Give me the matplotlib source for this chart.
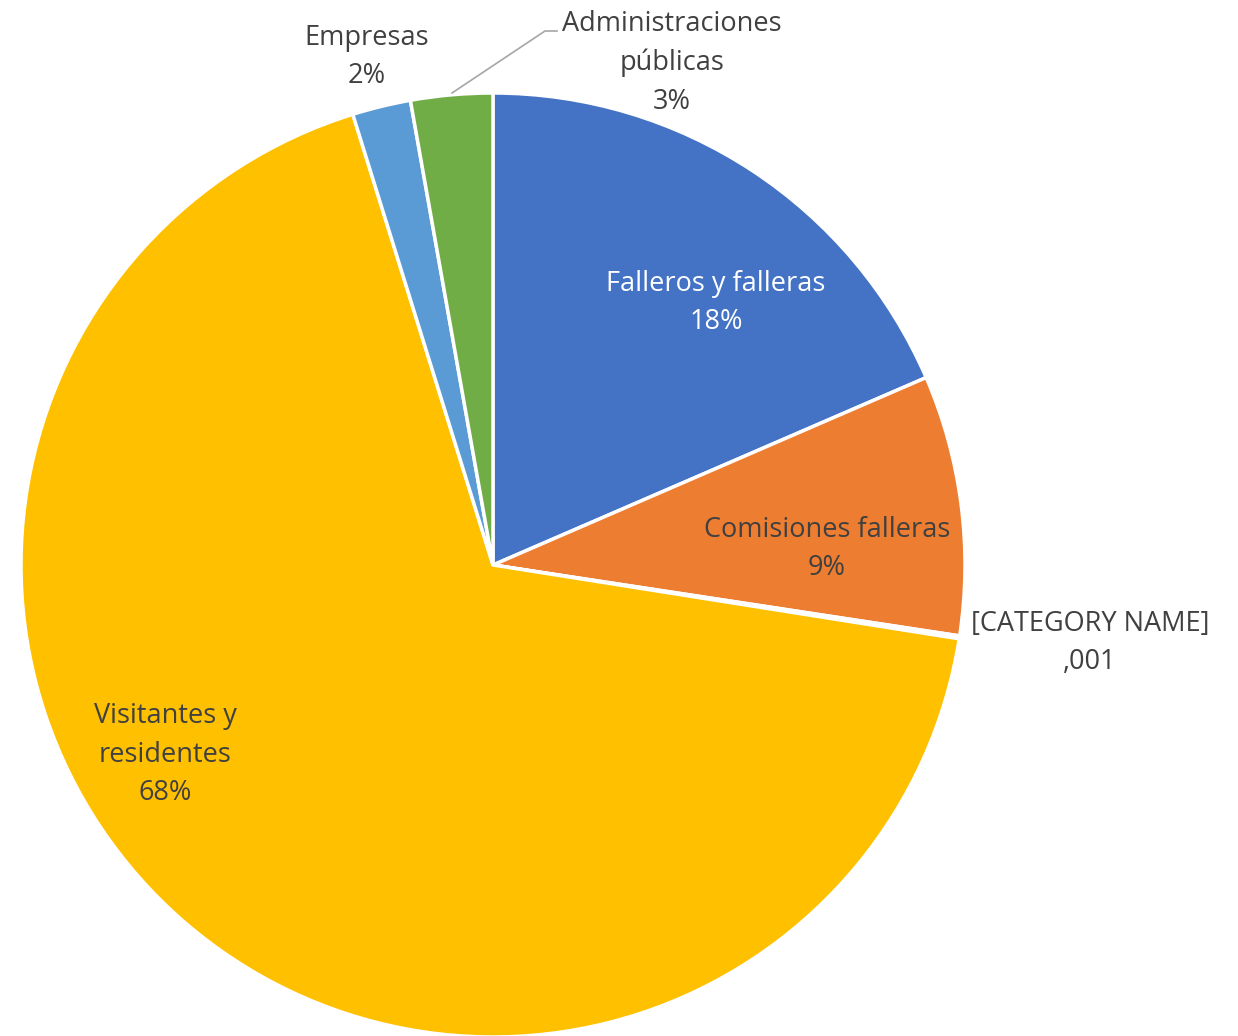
import matplotlib
matplotlib.use('Agg')
import matplotlib.pyplot as plt

categories = [
    'Falleros y falleras',
    'Comisiones falleras',
    '[CATEGORY NAME]',
    'Visitantes y\nresidentes',
    'Empresas',
    'Administraciones\npúblicas',
]
values = [0.185, 0.089, 0.001, 0.677, 0.020, 0.028]
value_labels = ['18%', '9%', ',001', '68%', '2%', '3%']
colors = ['#4472C4', '#ED7D31', '#A5A5A5', '#FFC000', '#5B9BD5', '#70AD47']

W, H = 1238, 1036
plt.rcParams['font.family'] = ['Open Sans', 'DejaVu Sans']

fig = plt.figure(figsize=(W / 100, H / 100), dpi=100)
ax = fig.add_axes([0, 0, 1, 1])

cx, cy, r = 493, H - 565, 472
ax.pie(
    values,
    colors=colors,
    startangle=90,
    counterclock=False,
    center=(cx, cy),
    radius=r,
    wedgeprops={'edgecolor': 'white', 'linewidth': 2.5},
    frame=True,
)
ax.set_xlim(0, W)
ax.set_ylim(0, H)
ax.set_aspect('equal')
ax.axis('off')

# label positions in pixel coords (from top-left)
label_pos = [(716, 303), (827, 549), (1090, 643), (165, 755), (367, 57), (672, 63)]
text_colors = ['white', '#404040', '#404040', '#404040', '#404040', '#404040']

for name, val, (x, y), c in zip(categories, value_labels, label_pos, text_colors):
    ax.text(x, H - y, f'{name}\n{val}', ha='center', va='center',
            fontsize=19.5, color=c, linespacing=1.5)

# leader line for Administraciones publicas
ax.plot([452, 545, 557], [H - 93, H - 31, H - 31], color='#A6A6A6', linewidth=1.2)

fig.savefig('out.png', dpi=100)
